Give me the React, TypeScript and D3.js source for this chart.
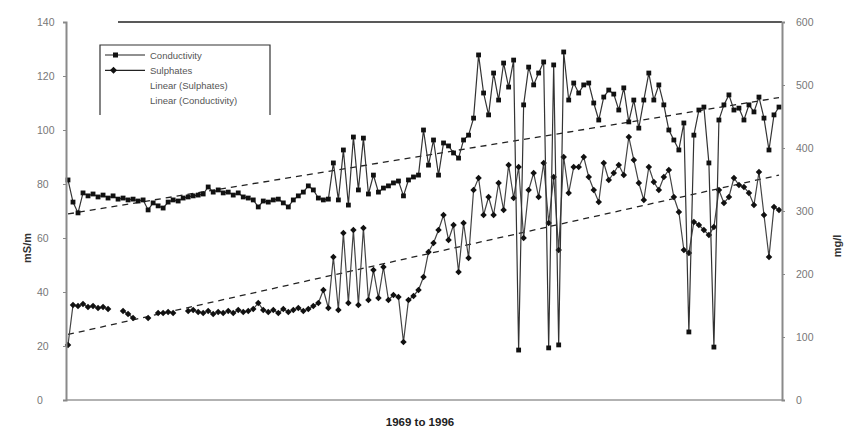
import React, { useEffect, useRef } from 'react';
import * as d3 from 'd3';

const width = 844;
const height = 436;

// monthly readings 1969 - 1996
const conductivity = [
  81.5, 73.3, 69.3, 76.7, 75.6, 76.3, 75.2, 75.9, 74.8, 75.6,
  74.4, 74.8, 74.1, 74.4, 73.7, 74.1, 70.4, 73.0, 71.9, 71.1,
  73.3, 74.1, 73.7, 74.8, 75.2, 75.6, 75.9, 76.3, 78.9, 77.0,
  77.8, 76.7, 77.0, 75.9, 76.7, 75.2, 74.8, 74.1, 71.5, 73.7,
  73.3, 74.1, 74.4, 73.0, 71.5, 74.1, 75.6, 77.0, 79.3, 77.8,
  74.8, 74.1, 74.4, 87.8, 74.1, 92.6, 72.2, 97.4, 77.8, 97.0,
  76.3, 83.3, 77.0, 78.5, 79.3, 80.4, 81.1, 75.6, 81.5, 82.6,
  83.3, 100.0, 87.0, 96.3, 83.3, 95.2, 94.1, 91.5, 89.6, 96.3,
  98.1, 104.4, 127.8, 113.7, 105.6, 121.1, 111.1, 124.8, 115.9, 125.9,
  18.5, 109.3, 123.3, 116.7, 121.1, 125.2, 19.3, 124.1, 20.4, 128.9,
  111.1, 117.4, 113.7, 116.7, 117.4, 110.0, 103.7, 112.2, 114.8, 113.3,
  107.4, 115.6, 103.0, 111.1, 100.7, 111.1, 121.1, 111.1, 116.7, 109.3,
  100.0, 96.3, 92.6, 102.6, 25.2, 98.1, 107.4, 108.5, 87.8, 19.6,
  103.7, 109.3, 113.0, 107.4, 108.1, 103.7, 109.3, 106.7, 112.2, 104.4,
  92.6, 105.6, 108.5,
];

const sulphates = [
  87.3, 150.8, 149.2, 152.4, 147.6, 149.2, 146.0, 147.6, 144.4, null,
  null, 141.3, 136.5, 130.2, null, null, 130.2, null, 138.1, 138.1,
  139.7, 138.1, null, null, 141.3, 142.9, 139.7, 138.1, 141.3, 136.5,
  139.7, 138.1, 141.3, 138.1, 142.9, 139.7, 141.3, 144.4, 154.0, 142.9,
  139.7, 142.9, 138.1, 144.4, 139.7, 142.9, 146.0, 141.3, 144.4, 149.2,
  154.0, 174.6, 146.0, 227.0, 142.9, 265.1, 154.0, 269.8, 150.8, 273.0,
  158.7, 206.3, 161.9, 211.1, 158.7, 166.7, 163.5, 92.1, 158.7, 165.1,
  174.6, 195.2, 234.9, 249.2, 269.8, 293.7, 254.0, 277.8, 203.2, 281.0,
  225.4, 333.3, 352.4, 293.7, 322.2, 293.7, 344.4, 301.6, 373.0, 320.6,
  369.8, 257.1, 333.3, 360.3, 322.2, 376.2, 281.0, 354.0, 238.1, 385.7,
  328.6, 369.8, 369.8, 385.7, 354.0, 333.3, 314.3, 376.2, 349.2, 360.3,
  373.0, 357.1, 417.5, 381.0, 344.4, 317.5, 369.8, 346.0, 333.3, 354.0,
  365.1, 322.2, 298.4, 238.1, 233.3, 282.5, 277.8, 269.8, 261.9, 274.6,
  333.3, 312.7, 322.2, 352.4, 341.3, 338.1, 328.6, 309.5, 361.9, 293.7,
  227.0, 306.3, 301.6,
];

// linear trend end values (first and last reading)
const condTrend = [68.9, 112.0];
const sulphTrend = [104, 357];

const leftTicks = [0, 20, 40, 60, 80, 100, 120, 140];
const rightTicks = [0, 100, 200, 300, 400, 500, 600];
const legendItems = ['Conductivity', 'Sulphates', 'Linear (Sulphates)', 'Linear (Conductivity)'];

const left = 66, right = 782, top = 22, bottom = 400;
const font = '"Liberation Sans", Arial, sans-serif';

export default function App() {
  const leftRef = useRef<SVGGElement>(null);
  const rightRef = useRef<SVGGElement>(null);

  const n = conductivity.length;
  const x = d3.scaleLinear().domain([0, n - 1]).range([68, 779]);
  const yL = d3.scaleLinear().domain([0, 140]).range([bottom, top]);
  const yR = d3.scaleLinear().domain([0, 600]).range([bottom, top]);

  const condLine = d3.line<number>().x((d, i) => x(i)).y(d => yL(d));
  const sulphLine = d3.line<number | null>()
    .defined(d => d != null)
    .x((d, i) => x(i))
    .y(d => yR(d as number));
  const trendL = d3.line<number>().x((d, i) => x(i * (n - 1))).y(d => yL(d));
  const trendR = d3.line<number>().x((d, i) => x(i * (n - 1))).y(d => yR(d));

  useEffect(() => {
    const la = d3.axisLeft(yL).tickValues(leftTicks).tickSize(3).tickPadding(6);
    const ra = d3.axisRight(yR).tickValues(rightTicks).tickSize(3).tickPadding(10);
    const gl = d3.select(leftRef.current!).call(la);
    const gr = d3.select(rightRef.current!).call(ra);
    [gl, gr].forEach(g => {
      g.select('.domain').attr('stroke', '#8a8a8a').attr('stroke-width', 2);
      g.selectAll('.tick line').attr('stroke', '#888');
      g.selectAll('.tick text').attr('fill', '#777').style('font-family', font).style('font-size', '10.5px');
    });
    gl.selectAll('.tick text').attr('text-anchor', 'start').attr('x', 37 - left);
    gr.selectAll('.tick text').attr('text-anchor', 'start').attr('x', 796 - right);
  }, []);

  return (
    <svg width={width} height={height} style={{ position: 'absolute', left: 0, top: 0, background: '#fff' }}>
      {/* plot frame */}
      <line x1={118} x2={right} y1={top} y2={top} stroke="#222" strokeWidth={1.5} />
      <line x1={left} x2={right} y1={bottom} y2={bottom} stroke="#999" strokeWidth={1.5} />

      {/* trends */}
      <path d={trendL(condTrend) || ''} fill="none" stroke="#222" strokeWidth={1.3} strokeDasharray="6,5" />
      <path d={trendR(sulphTrend) || ''} fill="none" stroke="#222" strokeWidth={1.3} strokeDasharray="6,5" />

      {/* series */}
      <path d={sulphLine(sulphates) || ''} fill="none" stroke="#444" strokeWidth={1.2} />
      {sulphates.map((d, i) => d == null ? null :
        <rect key={'s' + i} x={x(i) - 2.3} y={yR(d) - 2.3} width={4.6} height={4.6} fill="#111"
          transform={`rotate(45 ${x(i)} ${yR(d)})`} />)}
      <path d={condLine(conductivity) || ''} fill="none" stroke="#333" strokeWidth={1.2} />
      {conductivity.map((d, i) =>
        <rect key={'c' + i} x={x(i) - 2.4} y={yL(d) - 2.4} width={4.8} height={4.8} fill="#111" />)}

      <g ref={leftRef} transform={`translate(${left},0)`} />
      <g ref={rightRef} transform={`translate(${right},0)`} />

      {/* axis titles */}
      <text transform="translate(31,248) rotate(-90)" textAnchor="middle" fontFamily={font} fontSize={11} fontWeight="bold" fill="#333">mS/m</text>
      <text transform="translate(841,246) rotate(-90)" textAnchor="middle" fontFamily={font} fontSize={11} fontWeight="bold" fill="#333">mg/l</text>
      <text x={420} y={426} textAnchor="middle" fontFamily={font} fontSize={11.5} fontWeight="bold" fill="#222">1969 to 1996</text>

      {/* legend */}
      <g>
        <path d="M100,115 V45 H270 V115" fill="none" stroke="#333" strokeWidth={1.2} />
        {legendItems.map((t, i) => (
          <g key={t} transform={`translate(0,${55 + i * 15.3})`}>
            {i < 2 && <line x1={105} x2={145} y1={0} y2={0} stroke="#222" strokeWidth={1.2} />}
            {i === 0 && <rect x={113} y={-2.5} width={5} height={5} fill="#111" />}
            {i === 1 && <rect x={111} y={-2.5} width={5} height={5} fill="#111" transform="rotate(45 113.5 0)" />}
            <text x={150} y={3.5} fontFamily={font} fontSize={9.5} fill="#555">{t}</text>
          </g>
        ))}
      </g>
    </svg>
  );
}
